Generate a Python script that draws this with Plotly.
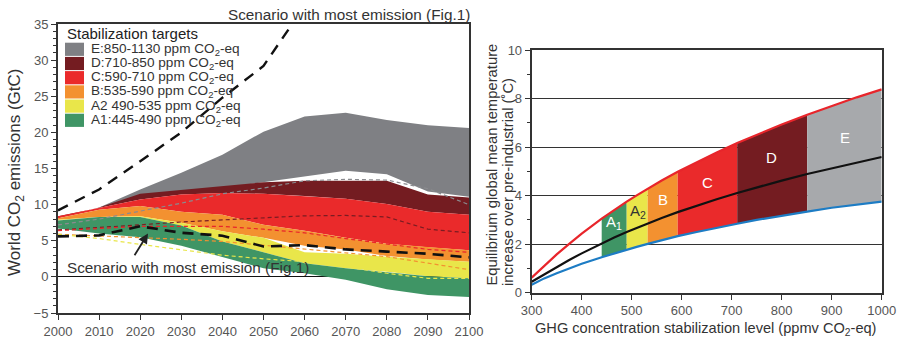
import plotly.graph_objects as go

# ---------------- Left panel data (World CO2 emissions, GtC) ----------------
years = [2000, 2010, 2020, 2030, 2040, 2050, 2060, 2070, 2080, 2090, 2100]
E_top = [8.0, 9.6, 12.1, 14.4, 16.9, 20.1, 22.2, 22.7, 21.7, 21.0, 20.6]
E_bot = [8.0, 9.6, 11.0, 11.5, 12.2, 13.1, 13.9, 14.7, 14.2, 11.8, 11.1]
D_top = [8.2, 9.6, 11.5, 12.0, 12.5, 13.1, 13.3, 13.3, 13.3, 11.4, 11.0]
C_top = [8.4, 9.5, 10.7, 11.4, 11.6, 11.5, 11.2, 10.8, 10.1, 9.0, 8.6]
B_top = [8.1, 9.3, 9.8, 9.0, 8.6, 7.2, 6.4, 5.4, 4.6, 4.1, 3.7]
B_bot = [7.9, 8.3, 8.4, 7.5, 6.3, 5.4, 4.3, 3.8, 2.9, 2.4, 2.1]
A2_top = [7.9, 8.3, 8.4, 7.5, 6.3, 5.4, 3.4, 3.2, 2.8, 2.4, 2.1]
A1_top = [7.8, 8.3, 8.3, 7.1, 4.9, 3.4, 1.9, 1.2, 0.7, 0.1, -0.2]
A1_bot = [6.7, 6.0, 5.5, 4.3, 2.8, 1.2, 0.5, -0.4, -1.7, -2.5, -2.8]

most_years = [2000, 2010, 2020, 2030, 2040, 2050, 2060]
most_top = [9.2, 12.1, 16.0, 20.0, 24.8, 29.2, 37.5]
most_low = [5.6, 5.75, 7.0, 6.1, 5.7, 4.2, 4.4, 3.8, 3.5, 3.2, 2.7]

dash_E = [7.2, 8.0, 9.1, 10.2, 11.5, 12.3, 13.3, 13.5, 13.4, 12.2, 10.0]
dash_D = [6.5, 6.8, 7.2, 7.6, 7.9, 8.2, 8.45, 8.5, 8.3, 6.6, 6.1]
dash_C = [6.4, 6.7, 7.0, 7.0, 7.0, 6.6, 6.1, 5.3, 4.5, 3.8, 3.4]
dash_B = [5.9, 5.7, 5.5, 5.2, 4.9, 4.4, 3.9, 3.3, 2.8, 1.9, 1.0]
dash_A2 = [5.9, 5.3, 4.5, 3.8, 3.0, 2.5, 2.1, 1.4, 0.5, -0.2, -0.2]

legend_labels = [
    "E:850-1130 ppm CO<sub>2</sub>-eq",
    "D:710-850 ppm CO<sub>2</sub>-eq",
    "C:590-710 ppm CO<sub>2</sub>-eq",
    "B:535-590 ppm CO<sub>2</sub>-eq",
    "A2 490-535 ppm CO<sub>2</sub>-eq",
    "A1:445-490 ppm CO<sub>2</sub>-eq",
]

# ---------------- Right panel data (equilibrium temperature) ----------------
conc = [300, 325, 350, 375, 400, 440, 465, 490, 510, 532, 560, 592, 630, 670,
        711, 750, 800, 851, 900, 950, 1000]
temp_high = [0.62, 1.12, 1.58, 2.01, 2.43, 3.05, 3.41, 3.75, 4.01, 4.28, 4.62,
             4.98, 5.38, 5.78, 6.17, 6.51, 6.93, 7.33, 7.70, 8.05, 8.38]
temp_mid = [0.45, 0.76, 1.06, 1.35, 1.62, 2.03, 2.27, 2.50, 2.67, 2.86, 3.08,
            3.32, 3.59, 3.85, 4.11, 4.34, 4.62, 4.89, 5.13, 5.37, 5.59]
temp_low = [0.33, 0.59, 0.80, 1.00, 1.19, 1.46, 1.62, 1.77, 1.89, 2.01, 2.16,
            2.33, 2.50, 2.68, 2.84, 3.00, 3.18, 3.34, 3.50, 3.63, 3.75]
band_edges = [440, 490, 532, 592, 711, 851, 1000]
band_names = ["A<sub>1</sub>", "A<sub>2</sub>", "B", "C", "D", "E"]
band_label_x = [465, 513, 563, 651, 779, 927]
band_label_y = [2.88, 3.34, 3.85, 4.55, 5.56, 6.39]

# ---------------- styles ----------------
FONT = "Liberation Sans, Arial, sans-serif"
col_left = ["#7f8084", "#741c21", "#ea2a2b", "#f39130", "#e9e64a", "#3f9565"]
col_right = ["#3f9565", "#e9e64a", "#f39130", "#ea2a2b", "#741c21", "#a7a9ac"]
label_colors = ["white", "#333333", "white", "white", "white", "white"]

fig = go.Figure()

def band(xs, top, bot, color, xa="x", ya="y"):
    fig.add_trace(go.Scatter(
        x=list(xs) + list(xs)[::-1], y=list(top) + list(bot)[::-1],
        mode="lines", fill="toself", fillcolor=color, line=dict(width=0),
        hoverinfo="skip", showlegend=False, xaxis=xa, yaxis=ya))

# left bands, painted from E down to A1
band(years, E_top, E_bot, col_left[0])
band(years, D_top, C_top, col_left[1])
band(years, C_top, B_top, col_left[2])
band(years, B_top, B_bot, col_left[3])
band(years, A2_top, A1_top, col_left[4])
band(years, A1_top, A1_bot, col_left[5])

def dline(xs, ys, color, width=1.2, dash="4px,3px"):
    fig.add_trace(go.Scatter(x=xs, y=ys, mode="lines",
                             line=dict(color=color, width=width, dash=dash),
                             hoverinfo="skip", showlegend=False,
                             xaxis="x", yaxis="y"))

dline(years, dash_E, "#8a8b8f")
dline(years, dash_D, "#7a1c22")
dline(years, dash_C, "#e8252b")
dline(years, dash_B, "#f39130")
dline(years, dash_A2, "#e9e64a")
dline(years, most_low, "#111111", width=2.6, dash="11px,7px")
dline(most_years, most_top, "#111111", width=2.4, dash="11px,8px")

# right bands
for i in range(len(band_edges) - 1):
    a = conc.index(band_edges[i])
    b = conc.index(band_edges[i + 1])
    band(conc[a:b + 1], temp_high[a:b + 1], temp_low[a:b + 1], col_right[i],
         xa="x2", ya="y2")

for ys, c in [(temp_low, "#1d7cc4"), (temp_mid, "#111111"), (temp_high, "#e8252b")]:
    fig.add_trace(go.Scatter(x=conc, y=ys, mode="lines",
                             line=dict(color=c, width=2.2),
                             hoverinfo="skip", showlegend=False,
                             xaxis="x2", yaxis="y2"))

anns = []
for name, lx, ly, lc in zip(band_names, band_label_x, band_label_y, label_colors):
    anns.append(dict(x=lx, y=ly, xref="x2", yref="y2", text=name, showarrow=False,
                     xanchor="center", yanchor="middle",
                     font=dict(family=FONT, size=15, color=lc)))

# legend for left panel (manual)
shapes = []
x0d, x1d, xtd = 7 / 411, 26 / 411, 31 / 411
anns.append(dict(x=x0d, y=(313 - 34) / 289, xref="x domain", yref="y domain",
                 text="Stabilization targets", showarrow=False, xanchor="left",
                 yanchor="middle", font=dict(family=FONT, size=15, color="#222222")))
for i, (lab, c) in enumerate(zip(legend_labels, col_left)):
    cy = 49.3 + i * 14.2
    shapes.append(dict(type="rect", xref="x domain", yref="y domain",
                       x0=x0d, x1=x1d, y0=(313 - (cy + 6.6)) / 289,
                       y1=(313 - (cy - 6.6)) / 289, fillcolor=c, line=dict(width=0)))
    anns.append(dict(x=xtd, y=(313 - cy) / 289, xref="x domain", yref="y domain",
                     text=lab, showarrow=False, xanchor="left", yanchor="middle",
                     font=dict(family=FONT, size=13.6, color="#333333")))

# scenario labels and arrow
anns.append(dict(x=349 / 903, y=1 - 14 / 339, xref="paper", yref="paper",
                 text="Scenario with most emission (Fig.1)", showarrow=False,
                 xanchor="center", yanchor="middle",
                 font=dict(family=FONT, size=15.3, color="#333333")))
anns.append(dict(x=2001.7, y=1.35, xref="x", yref="y", xanchor="left",
                 yanchor="middle",
                 text="Scenario with most emission (Fig.1)", showarrow=False,
                 font=dict(family=FONT, size=15.3, color="#333333")))
anns.append(dict(x=2021.9, y=6.0, xref="x", yref="y", ax=2018.4, ay=2.8,
                 axref="x", ayref="y", text="", showarrow=True, arrowhead=2,
                 arrowsize=1.1, arrowwidth=1.8, arrowcolor="#222222"))

# axis titles
anns.append(dict(x=16 / 903, y=1 - 172 / 339, xref="paper", yref="paper",
                 text="World CO<sub>2</sub> emissions (GtC)", textangle=-90,
                 xanchor="center", yanchor="middle",
                 showarrow=False, font=dict(family=FONT, size=17, color="#333333")))
anns.append(dict(x=491.5 / 903, y=1 - 288 / 339, xref="paper", yref="paper",
                 text="Equilibrium global mean temperature", textangle=-90,
                 xanchor="center", yanchor="bottom", showarrow=False,
                 font=dict(family=FONT, size=14.8, color="#333333")))
anns.append(dict(x=508 / 903, y=1 - 288 / 339, xref="paper", yref="paper",
                 text="increase over pre-industrial (˚C)", textangle=-90,
                 xanchor="center", yanchor="bottom", showarrow=False,
                 font=dict(family=FONT, size=14.8, color="#333333")))
anns.append(dict(x=705 / 903, y=1 - 329 / 339, xref="paper", yref="paper",
                 text="GHG concentration stabilization level (ppmv CO<sub>2</sub>-eq)",
                 xanchor="center", yanchor="middle",
                 showarrow=False, font=dict(family=FONT, size=14.6, color="#333333")))

tickfont = dict(family=FONT, size=13, color="#555555")
axis_common = dict(showline=True, linecolor="#333333", linewidth=2, mirror=True,
                   ticks="outside", ticklen=5, tickcolor="#333333", tickwidth=1.2,
                   tickfont=tickfont, automargin=False, showgrid=False,
                   zeroline=False, fixedrange=True)

fig.update_layout(
    width=903, height=339, margin=dict(l=0, r=0, t=0, b=0, autoexpand=False),
    paper_bgcolor="white", plot_bgcolor="white", showlegend=False,
    xaxis=dict(domain=[58 / 903, 469 / 903], range=[2000, 2100],
               tickvals=years, **axis_common),
    yaxis=dict(domain=[1 - 313 / 339, 1 - 24 / 339], range=[-5, 35],
               tickvals=[-5, 0, 5, 10, 15, 20, 25, 30, 35],
               minor=dict(dtick=1, ticks="outside", ticklen=3, tickcolor="#333333"),
               **{**axis_common, "zeroline": True, "zerolinecolor": "#111111",
                  "zerolinewidth": 1.2}),
    xaxis2=dict(domain=[531.7 / 903, 881.7 / 903], range=[300, 1000],
                tickvals=[300, 400, 500, 600, 700, 800, 900, 1000],
                anchor="y2", **axis_common),
    yaxis2=dict(domain=[1 - 292.7 / 339, 1 - 50 / 339], range=[0, 10],
                tickvals=[0, 2, 4, 6, 8, 10], anchor="x2",
                minor=dict(dtick=1, ticks="outside", ticklen=3, tickcolor="#333333"),
                **{**axis_common, "showgrid": True, "gridcolor": "#333333",
                   "gridwidth": 1.2}),
    annotations=anns, shapes=shapes,
)

fig.write_html("out.html")
